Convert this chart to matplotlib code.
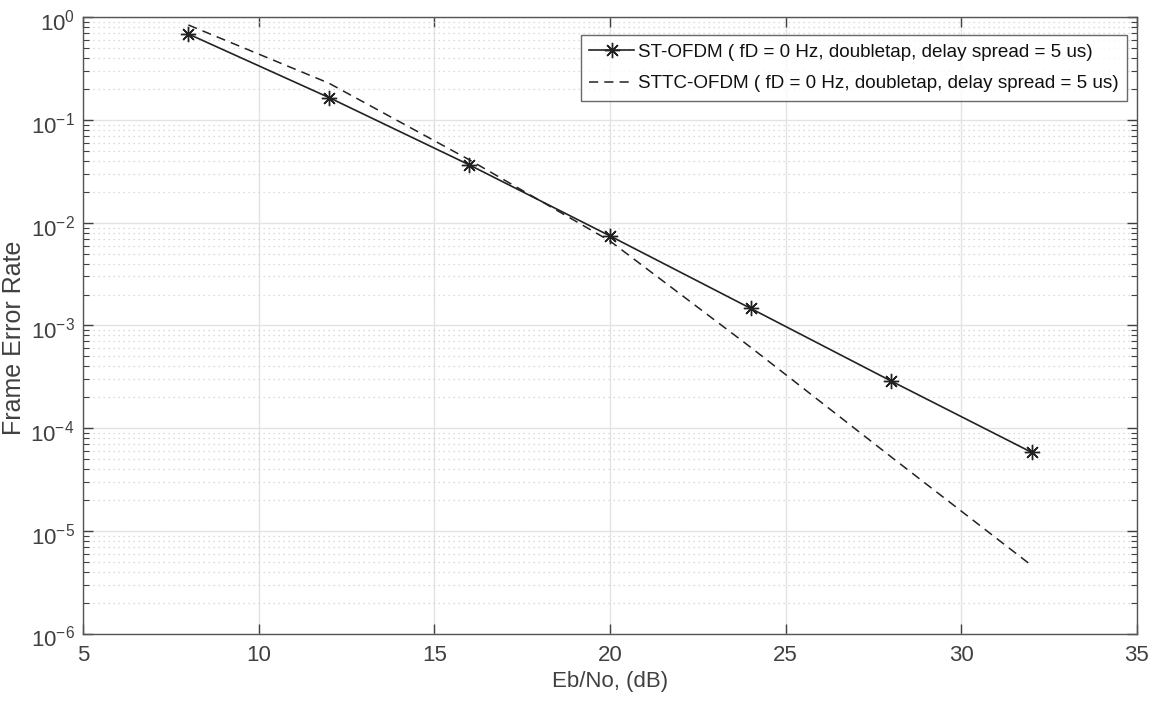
import matplotlib
matplotlib.use("Agg")
import matplotlib.pyplot as plt
import matplotlib.transforms as mtransforms
from matplotlib.ticker import FixedLocator, NullFormatter, MultipleLocator, FuncFormatter
import numpy as np

plt.rcParams['font.family'] = ['Liberation Sans', 'DejaVu Sans']
plt.rcParams['mathtext.fontset'] = 'custom'
plt.rcParams['mathtext.rm'] = 'Liberation Sans'
plt.rcParams['mathtext.it'] = 'Liberation Sans'

ebno = [8, 12, 16, 20, 24, 28, 32]
fer_st = [0.69, 0.166, 0.0366, 0.00745, 0.00147, 2.88e-4, 5.82e-5]
fer_sttc = [0.845, 0.229, 0.041, 0.00665, 6.15e-4, 5.26e-5, 4.6e-6]
label_st = "ST-OFDM ( fD = 0 Hz, doubletap, delay spread = 5 us)"
label_sttc = "STTC-OFDM ( fD = 0 Hz, doubletap, delay spread = 5 us)"
y_exponents = [-6, -5, -4, -3, -2, -1, 0]

tc = '#404040'
fig = plt.figure(figsize=(11.61, 7.13), dpi=100)
ax = fig.add_axes([0.0715, 0.1115, 0.9078, 0.864])

ax.semilogy(ebno, fer_st, color='#222222', lw=1.2, marker=(8, 2, 0),
            markersize=11, markeredgewidth=1.0, label=label_st)
ax.semilogy(ebno, fer_sttc, color='#222222', lw=1.1, dashes=(6, 4),
            label=label_sttc)

ax.set_xlim(5, 35)
ax.set_ylim(1e-6, 1)
ax.xaxis.set_major_locator(MultipleLocator(5))
majors = [10.0 ** e for e in y_exponents]
minors = [m * 10.0 ** e for e in y_exponents[:-1] for m in range(2, 10)]
ax.yaxis.set_major_locator(FixedLocator(majors))
ax.yaxis.set_minor_locator(FixedLocator(minors))
ax.yaxis.set_minor_formatter(NullFormatter())


def logfmt(v, pos):
    e = int(np.round(np.log10(v)))
    return r'$\mathregular{10^{%d}}$' % e


ax.yaxis.set_major_formatter(FuncFormatter(logfmt))

ax.grid(True, which='major', color='#e3e3e3', lw=1.0, ls='-')
ax.grid(True, which='minor', axis='y', color='#d0d0d0', lw=0.9, ls=(0, (1, 3)))
ax.set_axisbelow(True)

ax.tick_params(which='both', direction='in', top=True, right=True,
               colors=tc, labelcolor=tc)
ax.tick_params(which='major', length=7, width=1.0)
ax.tick_params(which='minor', length=4, width=0.8)
ax.tick_params(axis='x', pad=8, labelsize=16)
ax.tick_params(axis='y', pad=6, labelsize=16)
off = mtransforms.ScaledTranslation(0, -3 / 100, fig.dpi_scale_trans)
for lbl in ax.get_yticklabels():
    lbl.set_transform(lbl.get_transform() + off)
for s in ax.spines.values():
    s.set_color('#555555')
    s.set_linewidth(1.0)

ax.set_xlabel('Eb/No, (dB)', fontsize=16, color=tc, labelpad=4)
ax.set_ylabel('Frame Error Rate', fontsize=18, color=tc)
ax.yaxis.set_label_coords(-0.054, 0.48)

leg = ax.legend(loc='upper right', bbox_to_anchor=(0.9905, 0.9715), fontsize=13.6,
                frameon=True, fancybox=False, edgecolor='#444444',
                handlelength=2.38, handletextpad=0.2, borderpad=0.45,
                labelspacing=0.75, borderaxespad=0.0)
leg.get_frame().set_linewidth(1.0)
for t in leg.get_texts():
    t.set_color('#111111')

fig.savefig('out.png', dpi=100, facecolor='white')
